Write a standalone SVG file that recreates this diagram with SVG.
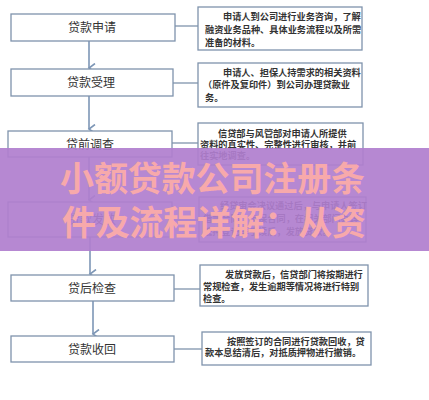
<svg xmlns="http://www.w3.org/2000/svg" width="429" height="400" viewBox="0 0 429 400">
<style>
.box{fill:#fff;stroke:#7f93ac;stroke-width:1.3}
.lbl{font-family:"Noto Sans CJK SC",sans-serif;font-size:12px;fill:#333;text-anchor:middle}
.desc{font-family:"Noto Sans CJK SC",sans-serif;font-size:9.2px;font-weight:bold;fill:#333}
.con{stroke:#7f93ac;stroke-width:1.3;fill:none}
.arr{stroke:#7d96b6;stroke-width:1.6;fill:none}
.wm{font-family:"Noto Sans CJK SC",sans-serif;font-size:34px;font-weight:bold;fill:#f7a9ab}
</style>
<defs>
<marker id="ah" markerWidth="10" markerHeight="10" refX="5" refY="8" orient="auto" markerUnits="userSpaceOnUse">
<polyline points="0.5,2 5,8 9.5,2" fill="none" stroke="#7d96b6" stroke-width="1.6"/>
</marker>
</defs>
<rect width="429" height="400" fill="#fff"/>
<g id="connectors">
<line class="arr" x1="89" y1="41" x2="89" y2="68" marker-end="url(#ah)"/>
<line class="arr" x1="89" y1="96" x2="89" y2="129" marker-end="url(#ah)"/>
<line class="arr" x1="89" y1="157" x2="89" y2="200" marker-end="url(#ah)"/>
<line class="arr" x1="90" y1="237" x2="90" y2="274" marker-end="url(#ah)"/>
<line class="arr" x1="93" y1="301" x2="93" y2="334" marker-end="url(#ah)"/>
<line class="con" x1="175" y1="26" x2="198" y2="26"/>
<line class="con" x1="173" y1="83" x2="198" y2="83"/>
<line class="con" x1="172" y1="143" x2="198" y2="143"/>
<line class="con" x1="172" y1="220" x2="199" y2="220"/>
<line class="con" x1="174" y1="289" x2="200" y2="289"/>
<line class="con" x1="174" y1="349" x2="202" y2="349"/>
</g>
<g id="n1"><rect class="box" x="11" y="14" width="164" height="27"/><text class="lbl" x="92" y="32">贷款申请</text></g>
<g id="n2"><rect class="box" x="11" y="69" width="162" height="27"/><text class="lbl" x="91" y="87">贷款受理</text></g>
<g id="n3"><rect class="box" x="8" y="131" width="164" height="26"/><text class="lbl" x="90" y="149">贷前调查</text></g>
<g id="n4"><rect class="box" x="8" y="202" width="164" height="35"/><text class="lbl" x="92" y="224">贷款发放</text></g>
<g id="n5"><rect class="box" x="11" y="275" width="163" height="26"/><text class="lbl" x="92" y="293">贷后检查</text></g>
<g id="n6"><rect class="box" x="11" y="336" width="163" height="26"/><text class="lbl" x="92" y="354">贷款收回</text></g>
<g id="d1"><rect class="box" x="198" y="7" width="164" height="43"/>
<text class="desc" x="223" y="19.5">申请人到公司进行业务咨询，了解</text>
<text class="desc" x="205" y="32.5">融资业务品种、具体业务流程以及所需</text>
<text class="desc" x="205" y="45.5">准备的材料。</text></g>
<g id="d2"><rect class="box" x="198" y="63" width="164" height="44"/>
<text class="desc" x="223" y="75.5">申请人、担保人持需求的相关资料</text>
<text class="desc" x="203" y="88">（原件及复印件）到公司办理贷款业</text>
<text class="desc" x="205" y="100.5">务。</text></g>
<g id="d3"><rect class="box" x="198" y="123" width="165" height="42"/>
<text class="desc" x="218" y="136.5">信贷部与风管部对申请人所提供</text>
<text class="desc" x="200" y="147.5">资料的真实性、完整性进行审核，并前</text>
<text class="desc" x="200" y="158.5">往实地调查。</text></g>
<g id="d4"><rect class="box" x="199" y="197" width="167" height="45"/>
<text class="desc" x="220" y="209">经贷审会决议通过后，与申请人签订</text>
<text class="desc" x="203" y="222">借款合同、担保合同，在相关部门办理</text>
<text class="desc" x="203" y="235">抵押登记等手续后，发放贷款。</text></g>
<g id="d5"><rect class="box" x="200" y="265" width="168" height="41"/>
<text class="desc" x="225" y="277.5">发放贷款后，信贷部门将按期进行</text>
<text class="desc" x="203" y="289.5">常规检查，发生逾期等情况将进行特别</text>
<text class="desc" x="203" y="301.5">检查。</text></g>
<g id="d6"><rect class="box" x="202" y="332" width="169" height="33"/>
<text class="desc" x="227" y="344.5">按照签订的合同进行贷款回收，贷</text>
<text class="desc" x="205" y="355.5">款本息结清后，对抵质押物进行撤销。</text></g>
<g id="watermark">
<rect x="0" y="148" width="429" height="103" fill="#b07ece" opacity="0.92"/>
<text class="wm" x="60" y="191" textLength="305">小额贷款公司注册条</text>
<text class="wm" x="62" y="235" textLength="304">件及流程详解：从资</text>
</g>
</svg>
